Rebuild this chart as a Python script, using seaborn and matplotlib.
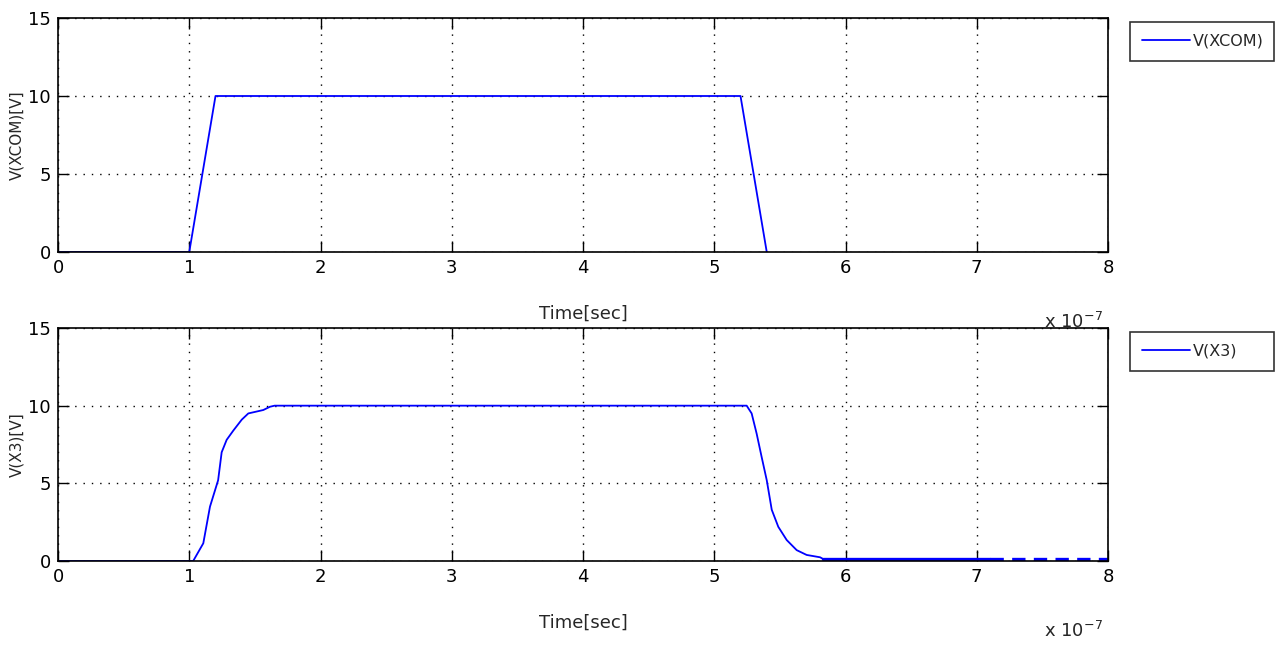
import matplotlib
matplotlib.use("Agg")
import matplotlib.pyplot as plt
import seaborn as sns
import pandas as pd

# ---- data (time in units of 1e-7 s, voltage in V) ----
t_xcom = [0.0, 1.0, 1.2, 5.2, 5.4]
v_xcom = [0.0, 0.0, 10.0, 10.0, 0.0]

t_x3 = [0.0, 1.03, 1.107, 1.158, 1.22, 1.247, 1.285, 1.336, 1.40, 1.45, 1.564, 1.615, 1.65,
        5.247, 5.285, 5.323, 5.361, 5.40, 5.438, 5.488, 5.552, 5.628, 5.704, 5.806, 5.83]
v_x3 = [0.0, 0.0, 1.14, 3.5, 5.2, 7.0, 7.8, 8.4, 9.1, 9.5, 9.72, 9.93, 10.0,
        10.0, 9.5, 8.2, 6.7, 5.2, 3.3, 2.2, 1.35, 0.7, 0.39, 0.24, 0.13]
t_x3_tail_solid = [5.83, 7.1]
v_x3_tail_solid = [0.1, 0.1]
t_x3_tail_dash = [7.1, 8.0]
v_x3_tail_dash = [0.1, 0.1]

xticks = [0, 1, 2, 3, 4, 5, 6, 7, 8]
yticks = [0, 5, 10, 15]

sns.set_style("white")
plt.rcParams['font.family'] = ['DejaVu Sans']

fig = plt.figure(figsize=(12.83, 6.51), dpi=100)
W, H = 1283, 651
ax1 = fig.add_axes([58 / W, (H - 252) / H, 1050 / W, 234 / H])
ax2 = fig.add_axes([58 / W, (H - 561) / H, 1050 / W, 233 / H])

blue = (0, 0, 1)

sns.lineplot(x=t_xcom, y=v_xcom, ax=ax1, color=blue, lw=1.3, label='V(XCOM)',
             estimator=None, sort=False)
sns.lineplot(x=t_x3, y=v_x3, ax=ax2, color=blue, lw=1.3, label='V(X3)',
             estimator=None, sort=False)
sns.lineplot(x=t_x3_tail_solid, y=v_x3_tail_solid, ax=ax2, color=blue, lw=2.4,
             estimator=None, sort=False)
ax2.plot(t_x3_tail_dash, v_x3_tail_dash, color=blue, lw=2.4, ls=(0, (4, 2.5)))

for ax, ylab, leg_lab in [(ax1, 'V(XCOM)[V]', 'V(XCOM)'), (ax2, 'V(X3)[V]', 'V(X3)')]:
    ax.set_xlim(0, 8)
    ax.set_ylim(0, 15)
    ax.set_xticks(xticks)
    ax.set_yticks(yticks)
    ax.grid(True, color='black', ls=(0, (1, 5)), lw=1.0)
    ax.tick_params(direction='in', length=8, width=1, top=True, right=True,
                   bottom=True, left=True, labelsize=13, colors='black', pad=5)
    for s in ax.spines.values():
        s.set_color('black')
        s.set_linewidth(1.2)
        s.set_visible(True)
    ax.set_xlabel('Time[sec]', fontsize=13, labelpad=20)
    ax.set_ylabel(ylab, fontsize=11, labelpad=3)
    ax.text(0.995, -0.30, r'x 10$^{-7}$', transform=ax.transAxes, ha='right',
            va='center', fontsize=13)
    h, l = ax.get_legend_handles_labels()
    leg = ax.legend(h[:1], [leg_lab], loc='upper left',
                    bbox_to_anchor=(1.021, 0.0, 144 / 1050, 0.983),
                    mode='expand', borderaxespad=0, frameon=True, fancybox=False,
                    fontsize=11.5, handlelength=3.0, handletextpad=0.2, borderpad=0.75)
    leg.get_frame().set_edgecolor('black')
    leg.get_frame().set_linewidth(1.2)

fig.savefig('out.png', dpi=100)
